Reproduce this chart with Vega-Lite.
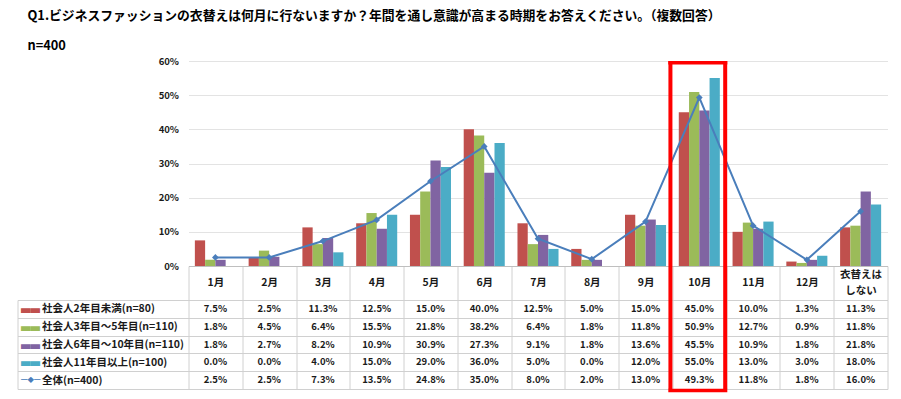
{
  "$schema": "https://vega.github.io/schema/vega-lite/v6.json",
  "background": "white",
  "padding": {"left": 16.5, "top": 10, "right": 0, "bottom": 0},
  "spacing": 34,
  "bounds": "flush",
  "config": {"view": {"stroke": null}, "font": "Noto Sans CJK JP"},
  "title": {
    "text": ["Q1.ビジネスファッションの衣替えは何月に行ないますか？年間を通し意識が高まる時期をお答えください。（複数回答）", "n=400"],
    "anchor": "start", "frame": "bounds", "font": "Noto Sans CJK JP", "fontSize": 12.8, "fontWeight": "bold",
    "color": "#000000", "lineHeight": 30, "dx": 10.5, "offset": 3
  },
  "datasets": {
    "d": [
      {"m": "1月", "s": "社会人2年目未満(n=80)", "v": 0.075},
      {"m": "2月", "s": "社会人2年目未満(n=80)", "v": 0.025},
      {"m": "3月", "s": "社会人2年目未満(n=80)", "v": 0.113},
      {"m": "4月", "s": "社会人2年目未満(n=80)", "v": 0.125},
      {"m": "5月", "s": "社会人2年目未満(n=80)", "v": 0.15},
      {"m": "6月", "s": "社会人2年目未満(n=80)", "v": 0.40},
      {"m": "7月", "s": "社会人2年目未満(n=80)", "v": 0.125},
      {"m": "8月", "s": "社会人2年目未満(n=80)", "v": 0.05},
      {"m": "9月", "s": "社会人2年目未満(n=80)", "v": 0.15},
      {"m": "10月", "s": "社会人2年目未満(n=80)", "v": 0.45},
      {"m": "11月", "s": "社会人2年目未満(n=80)", "v": 0.10},
      {"m": "12月", "s": "社会人2年目未満(n=80)", "v": 0.013},
      {"m": "衣替えはしない", "s": "社会人2年目未満(n=80)", "v": 0.113},
      {"m": "1月", "s": "社会人3年目～5年目(n=110)", "v": 0.018},
      {"m": "2月", "s": "社会人3年目～5年目(n=110)", "v": 0.045},
      {"m": "3月", "s": "社会人3年目～5年目(n=110)", "v": 0.064},
      {"m": "4月", "s": "社会人3年目～5年目(n=110)", "v": 0.155},
      {"m": "5月", "s": "社会人3年目～5年目(n=110)", "v": 0.218},
      {"m": "6月", "s": "社会人3年目～5年目(n=110)", "v": 0.382},
      {"m": "7月", "s": "社会人3年目～5年目(n=110)", "v": 0.064},
      {"m": "8月", "s": "社会人3年目～5年目(n=110)", "v": 0.018},
      {"m": "9月", "s": "社会人3年目～5年目(n=110)", "v": 0.118},
      {"m": "10月", "s": "社会人3年目～5年目(n=110)", "v": 0.509},
      {"m": "11月", "s": "社会人3年目～5年目(n=110)", "v": 0.127},
      {"m": "12月", "s": "社会人3年目～5年目(n=110)", "v": 0.009},
      {"m": "衣替えはしない", "s": "社会人3年目～5年目(n=110)", "v": 0.118},
      {"m": "1月", "s": "社会人6年目～10年目(n=110)", "v": 0.018},
      {"m": "2月", "s": "社会人6年目～10年目(n=110)", "v": 0.027},
      {"m": "3月", "s": "社会人6年目～10年目(n=110)", "v": 0.082},
      {"m": "4月", "s": "社会人6年目～10年目(n=110)", "v": 0.109},
      {"m": "5月", "s": "社会人6年目～10年目(n=110)", "v": 0.309},
      {"m": "6月", "s": "社会人6年目～10年目(n=110)", "v": 0.273},
      {"m": "7月", "s": "社会人6年目～10年目(n=110)", "v": 0.091},
      {"m": "8月", "s": "社会人6年目～10年目(n=110)", "v": 0.018},
      {"m": "9月", "s": "社会人6年目～10年目(n=110)", "v": 0.136},
      {"m": "10月", "s": "社会人6年目～10年目(n=110)", "v": 0.455},
      {"m": "11月", "s": "社会人6年目～10年目(n=110)", "v": 0.109},
      {"m": "12月", "s": "社会人6年目～10年目(n=110)", "v": 0.018},
      {"m": "衣替えはしない", "s": "社会人6年目～10年目(n=110)", "v": 0.218},
      {"m": "1月", "s": "社会人11年目以上(n=100)", "v": 0.0},
      {"m": "2月", "s": "社会人11年目以上(n=100)", "v": 0.0},
      {"m": "3月", "s": "社会人11年目以上(n=100)", "v": 0.04},
      {"m": "4月", "s": "社会人11年目以上(n=100)", "v": 0.15},
      {"m": "5月", "s": "社会人11年目以上(n=100)", "v": 0.29},
      {"m": "6月", "s": "社会人11年目以上(n=100)", "v": 0.36},
      {"m": "7月", "s": "社会人11年目以上(n=100)", "v": 0.05},
      {"m": "8月", "s": "社会人11年目以上(n=100)", "v": 0.0},
      {"m": "9月", "s": "社会人11年目以上(n=100)", "v": 0.12},
      {"m": "10月", "s": "社会人11年目以上(n=100)", "v": 0.55},
      {"m": "11月", "s": "社会人11年目以上(n=100)", "v": 0.13},
      {"m": "12月", "s": "社会人11年目以上(n=100)", "v": 0.03},
      {"m": "衣替えはしない", "s": "社会人11年目以上(n=100)", "v": 0.18},
      {"m": "1月", "s": "全体(n=400)", "v": 0.025},
      {"m": "2月", "s": "全体(n=400)", "v": 0.025},
      {"m": "3月", "s": "全体(n=400)", "v": 0.073},
      {"m": "4月", "s": "全体(n=400)", "v": 0.135},
      {"m": "5月", "s": "全体(n=400)", "v": 0.248},
      {"m": "6月", "s": "全体(n=400)", "v": 0.35},
      {"m": "7月", "s": "全体(n=400)", "v": 0.08},
      {"m": "8月", "s": "全体(n=400)", "v": 0.02},
      {"m": "9月", "s": "全体(n=400)", "v": 0.13},
      {"m": "10月", "s": "全体(n=400)", "v": 0.493},
      {"m": "11月", "s": "全体(n=400)", "v": 0.118},
      {"m": "12月", "s": "全体(n=400)", "v": 0.018},
      {"m": "衣替えはしない", "s": "全体(n=400)", "v": 0.16}
    ]
  },
  "vconcat": [
    {
      "width": 699,
      "height": 205,
      "data": {"name": "d"},
      "layer": [
        {
          "transform": [{"filter": "datum.s !== '全体(n=400)'"}],
          "mark": {"type": "bar"},
          "encoding": {
            "x": {
              "field": "m", "type": "nominal",
              "scale": {"domain": ["1月","2月","3月","4月","5月","6月","7月","8月","9月","10月","11月","12月","衣替えはしない"], "paddingInner": 0, "paddingOuter": 0},
              "axis": {
                "orient": "bottom", "title": null, "domain": true, "domainColor": "#bfbfbf",
                "ticks": true, "tickBand": "extent", "tickSize": 34, "tickColor": "#d0d0d0",
                "grid": false, "labelAngle": 0, "labelBaseline": "middle",
                "labelPadding": {"condition": {"test": "datum.value === '衣替えはしない'", "value": -26}, "value": -18},
                "labelFontSize": 10.5, "labelFontWeight": "bold", "labelColor": "#1a1a1a",
                "labelExpr": "datum.value === '衣替えはしない' ? ['衣替えは', 'しない'] : datum.value",
                "labelLineHeight": 16, "labelOverlap": false, "labelBound": false
              }
            },
            "xOffset": {
              "field": "s", "type": "nominal",
              "scale": {"domain": ["社会人2年目未満(n=80)", "社会人3年目～5年目(n=110)", "社会人6年目～10年目(n=110)", "社会人11年目以上(n=100)"], "paddingInner": 0, "paddingOuter": 0.62}
            },
            "y": {
              "field": "v", "type": "quantitative",
              "scale": {"domain": [0, 0.6], "nice": false},
              "axis": {
                "title": null, "domain": false, "ticks": false, "values": [0, 0.1, 0.2, 0.3, 0.4, 0.5, 0.6],
                "tickCount": 7, "labelOverlap": false,
                "format": ".0%", "labelPadding": 10, "labelFontSize": 9.5, "labelFontWeight": "bold",
                "labelColor": "#1a1a1a", "grid": true, "gridColor": "#e3e3e3"
              }
            },
            "color": {
              "field": "s", "type": "nominal",
              "scale": {"domain": ["社会人2年目未満(n=80)", "社会人3年目～5年目(n=110)", "社会人6年目～10年目(n=110)", "社会人11年目以上(n=100)"], "range": ["#C0504D", "#9BBB59", "#8064A2", "#4BACC6"]},
              "legend": null
            }
          }
        },
        {
          "transform": [{"filter": "datum.s === '全体(n=400)'"}],
          "mark": {"type": "line", "color": "#4A7EBB", "strokeWidth": 2, "point": {"shape": "diamond", "size": 45, "color": "#4A7EBB", "filled": true}},
          "encoding": {
            "x": {"field": "m", "type": "nominal"},
            "y": {"field": "v", "type": "quantitative"}
          }
        },
        {
          "transform": [{"filter": "datum.s === '全体(n=400)' && datum.m === '10月'"}],
          "mark": {"type": "rule", "color": "#FF0000", "strokeWidth": 4, "xOffset": -2},
          "encoding": {
            "x": {"field": "m", "type": "nominal", "bandPosition": 0},
            "y": {"datum": 0.6},
            "y2": {"datum": -0.1}
          }
        },
        {
          "transform": [{"filter": "datum.s === '全体(n=400)' && datum.m === '10月'"}],
          "mark": {"type": "rule", "color": "#FF0000", "strokeWidth": 4, "xOffset": -1},
          "encoding": {
            "x": {"field": "m", "type": "nominal", "bandPosition": 1},
            "y": {"datum": 0.6},
            "y2": {"datum": -0.1}
          }
        },
        {
          "transform": [{"filter": "datum.s === '全体(n=400)' && datum.m === '10月'"}],
          "mark": {"type": "tick", "color": "#FF0000", "thickness": 3.5, "size": 59, "orient": "horizontal", "xOffset": -1.5, "yOffset": 1.75, "opacity": 1},
          "encoding": {
            "x": {"field": "m", "type": "nominal"},
            "y": {"datum": 0.6}
          }
        }
      ]
    },
    {
      "width": 699,
      "height": 89,
      "data": {"name": "d"},
      "layer": [
        {
          "mark": {"type": "text", "fontSize": 9.5, "fontWeight": "bold", "color": "#1a1a1a"},
          "encoding": {
            "x": {
              "field": "m", "type": "nominal",
              "scale": {"domain": ["1月","2月","3月","4月","5月","6月","7月","8月","9月","10月","11月","12月","衣替えはしない"], "paddingInner": 0, "paddingOuter": 0},
              "axis": {"title": null, "labels": false, "ticks": false, "domain": false, "grid": true, "gridColor": "#d0d0d0", "tickBand": "extent"}
            },
            "y": {
              "field": "s", "type": "nominal",
              "scale": {"domain": ["社会人2年目未満(n=80)", "社会人3年目～5年目(n=110)", "社会人6年目～10年目(n=110)", "社会人11年目以上(n=100)", "全体(n=400)"], "paddingInner": 0, "paddingOuter": 0},
              "axis": {
                "orient": "left", "title": null, "domain": false, "ticks": true, "tickSize": 171, "tickBand": "extent",
                "tickColor": "#d0d0d0", "grid": true, "gridColor": "#d0d0d0", "labelAlign": "left", "labelPadding": -24,
                "labelBaseline": "middle", "labelFontSize": 10.5, "labelFontWeight": "bold", "labelColor": "#1a1a1a", "labelLimit": 0
              }
            },
            "text": {"field": "v", "type": "quantitative", "format": ".1%"}
          }
        },
        {
          "mark": {"type": "point", "opacity": 0},
          "encoding": {
            "y": {
              "field": "s", "type": "nominal",
              "axis": {
                "orient": "left", "offset": 171, "title": null, "domain": true, "domainColor": "#d0d0d0", "ticks": false, "grid": false,
                "labelAlign": "left", "labelPadding": -3, "labelBaseline": "middle", "labelFont": "Noto Sans CJK JP",
                "labelExpr": "datum.value === '全体(n=400)' ? '━◆━' : '▄▄'",
                "labelFontSize": {"condition": {"test": "datum.value === '全体(n=400)'", "value": 6.5}, "value": 9.5},
                "labelColor": {"condition": [
                  {"test": "datum.value === '社会人2年目未満(n=80)'", "value": "#C0504D"},
                  {"test": "datum.value === '社会人3年目～5年目(n=110)'", "value": "#9BBB59"},
                  {"test": "datum.value === '社会人6年目～10年目(n=110)'", "value": "#8064A2"},
                  {"test": "datum.value === '社会人11年目以上(n=100)'", "value": "#4BACC6"}
                ], "value": "#4A7EBB"}
              }
            }
          }
        },
        {
          "transform": [{"filter": "datum.s === '全体(n=400)' && datum.m === '10月'"}],
          "mark": {"type": "rule", "color": "#FF0000", "strokeWidth": 4, "xOffset": -2},
          "encoding": {"x": {"field": "m", "type": "nominal", "bandPosition": 0}}
        },
        {
          "transform": [{"filter": "datum.s === '全体(n=400)' && datum.m === '10月'"}],
          "mark": {"type": "rule", "color": "#FF0000", "strokeWidth": 4, "xOffset": -1},
          "encoding": {"x": {"field": "m", "type": "nominal", "bandPosition": 1}}
        },
        {
          "transform": [{"filter": "datum.s === '全体(n=400)' && datum.m === '10月'"}],
          "mark": {"type": "tick", "color": "#FF0000", "thickness": 3.5, "size": 59, "orient": "horizontal", "xOffset": -1.5, "yOffset": 1.5, "opacity": 1},
          "encoding": {
            "x": {"field": "m", "type": "nominal"},
            "y": {"field": "s", "type": "nominal", "bandPosition": 1, "axis": null}
          }
        }
      ],
      "resolve": {"axis": {"y": "independent"}}
    }
  ]
}
